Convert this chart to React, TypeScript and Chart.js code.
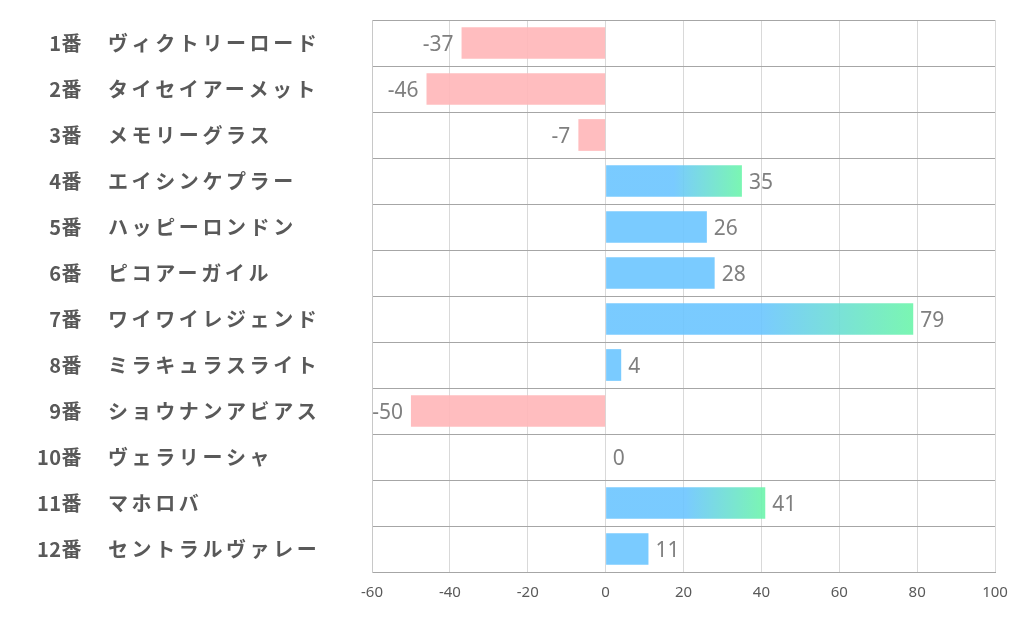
import React, { useEffect, useRef } from "react";
import { Chart, registerables } from "chart.js";

Chart.register(...registerables);

const numbers = ["1番", "2番", "3番", "4番", "5番", "6番", "7番", "8番", "9番", "10番", "11番", "12番"];
const names = [
  "ヴィクトリーロード",
  "タイセイアーメット",
  "メモリーグラス",
  "エイシンケプラー",
  "ハッピーロンドン",
  "ピコアーガイル",
  "ワイワイレジェンド",
  "ミラキュラスライト",
  "ショウナンアビアス",
  "ヴェラリーシャ",
  "マホロバ",
  "セントラルヴァレー",
];
const values = [-37, -46, -7, 35, 26, 28, 79, 4, -50, 0, 41, 11];
const xTicks = [-60, -40, -20, 0, 20, 40, 60, 80, 100];
const gradientThreshold = 30;

const BLUE = "rgba(107,197,255,0.9)";
const GREEN = "rgba(108,245,170,0.9)";
const PINK = "rgba(255,182,184,0.9)";

export default function App() {
  const ref = useRef<HTMLCanvasElement | null>(null);

  useEffect(() => {
    document.body.style.margin = "0";
    const canvas = ref.current;
    if (!canvas) return;

    const labelPlugin = {
      id: "labels",
      afterDatasetsDraw(chart: any) {
        const ctx = chart.ctx;
        const meta = chart.getDatasetMeta(0);
        ctx.save();
        ctx.font = '21px "Noto Sans", "Open Sans", sans-serif';
        ctx.fillStyle = "#7f7f7f";
        ctx.textBaseline = "middle";
        meta.data.forEach((bar: any, i: number) => {
          const v = values[i];
          if (v < 0) {
            ctx.textAlign = "right";
            ctx.fillText(String(v), bar.x - 8, bar.y + 2);
          } else {
            ctx.textAlign = "left";
            ctx.fillText(String(v), bar.x + 7, bar.y + 2);
          }
        });
        ctx.restore();
      },
      afterDraw(chart: any) {
        const ctx = chart.ctx;
        const y = chart.scales.y;
        ctx.save();
        ctx.font = 'bold 20px "Noto Sans CJK JP", sans-serif';
        ctx.fillStyle = "#595959";
        ctx.textBaseline = "middle";
        numbers.forEach((n, i) => {
          const py = y.getPixelForValue(i);
          ctx.textAlign = "right";
          (ctx as any).letterSpacing = "0.5px";
          ctx.fillText(n, 82, py);
          ctx.textAlign = "left";
          (ctx as any).letterSpacing = "3.6px";
          ctx.fillText(names[i], 108, py);
        });
        ctx.restore();
      },
    };

    const chart = new Chart(canvas, {
      type: "bar",
      data: {
        labels: numbers.map((n, i) => n + "　" + names[i]),
        datasets: [
          {
            data: values,
            barPercentage: 0.69,
            categoryPercentage: 1,
            borderWidth: 0,
            backgroundColor: (c: any) => {
              const v = values[c.dataIndex];
              if (v === undefined) return BLUE;
              if (v < 0) return PINK;
              const chartRef = c.chart;
              const xs = chartRef.scales && chartRef.scales.x;
              if (v >= gradientThreshold && xs && chartRef.chartArea) {
                const x0 = xs.getPixelForValue(v * 0.5);
                const x1 = xs.getPixelForValue(v);
                const g = chartRef.ctx.createLinearGradient(x0, 0, x1, 0);
                g.addColorStop(0, BLUE);
                g.addColorStop(1, GREEN);
                return g;
              }
              return BLUE;
            },
          },
        ],
      },
      options: {
        indexAxis: "y",
        responsive: false,
        animation: false,
        devicePixelRatio: 1,
        layout: { padding: { top: 20, right: 27, left: 0, bottom: 0 } },
        plugins: {
          legend: { display: false },
          tooltip: { enabled: false },
        },
        scales: {
          x: {
            min: -60,
            max: 100,
            afterBuildTicks: (s: any) => {
              s.ticks = xTicks.map((v) => ({ value: v }));
            },
            afterFit: (s: any) => {
              s.height = 54;
            },
            ticks: {
              padding: 12,
              color: "#595959",
              font: { family: '"Noto Sans", sans-serif', size: 15 },
              maxRotation: 0,
              autoSkip: false,
            },
            grid: { color: "#d9d9d9", drawTicks: false, lineWidth: 1 },
            border: { display: true, color: "#a6a6a6" },
          },
          y: {
            afterFit: (s: any) => {
              s.width = 372;
            },
            ticks: { display: false },
            grid: { color: "#a6a6a6", drawTicks: false, offset: true, lineWidth: 1 },
            border: { display: true, color: "#c8c8c8" },
          },
        },
      },
      plugins: [labelPlugin],
    } as any);

    return () => chart.destroy();
  }, []);

  return <canvas ref={ref} width={1022} height={626} style={{ display: "block" }} />;
}
